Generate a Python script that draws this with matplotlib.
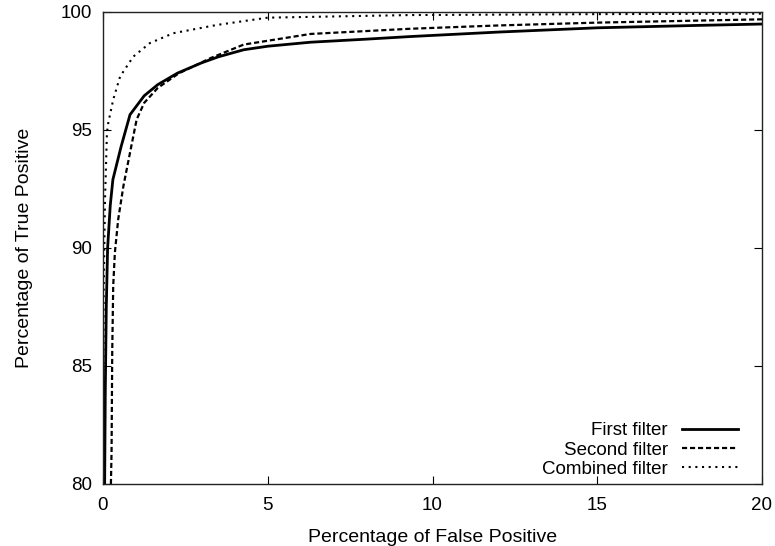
import matplotlib
matplotlib.use("Agg")
import matplotlib.pyplot as plt

plt.rcParams['font.family'] = ['Liberation Sans', 'DejaVu Sans']

# Data (x: % false positive, y: % true positive)
first_fp = [0.05, 0.07, 0.10, 0.14, 0.22, 0.30, 0.55, 0.82, 1.25, 1.66, 2.26, 3.0, 3.5,
            4.27, 5.0, 6.3, 8.0, 9.33, 12.0, 15.0, 18.0, 20.0]
first_tp = [80.0, 84.0, 87.5, 90.0, 91.8, 92.9, 94.3, 95.65, 96.45, 96.92, 97.41, 97.85, 98.1,
            98.4, 98.55, 98.72, 98.85, 98.96, 99.15, 99.33, 99.43, 99.49]

second_fp = [0.24, 0.26, 0.28, 0.31, 0.36, 0.46, 0.62, 0.82, 1.02, 1.25, 1.66, 2.3, 3.27,
             4.27, 6.3, 9.33, 12.0, 15.0, 20.0]
second_tp = [80.0, 81.4, 85.6, 88.4, 89.8, 91.2, 92.63, 94.04, 95.44, 96.15, 96.78, 97.4, 98.05,
             98.62, 99.07, 99.29, 99.43, 99.55, 99.69]

combined_fp = [0.0, 0.02, 0.06, 0.12, 0.16, 0.31, 0.52, 0.92, 1.42, 2.13, 3.45, 5.0, 9.3,
               15.0, 20.0]
combined_tp = [80.0, 88.0, 92.0, 94.9, 95.3, 96.29, 97.27, 98.11, 98.68, 99.1, 99.45, 99.76, 99.87,
               99.91, 99.93]

labels = ["First filter", "Second filter", "Combined filter"]
x_ticks = [0, 5, 10, 15, 20]
y_ticks = [80, 85, 90, 95, 100]

fig = plt.figure(figsize=(7.75, 5.46), dpi=100)
ax = fig.add_axes([103/775, 1-484/546, (762-103)/775, (484-12)/546])

ax.plot(first_fp, first_tp, color='black', lw=2.0, solid_joinstyle='miter', label=labels[0])
ax.plot(second_fp, second_tp, color='black', lw=1.6, dashes=(2.3, 1.3), label=labels[1])
ax.plot(combined_fp, combined_tp, color='black', lw=1.5, dashes=(1.0, 2.2), label=labels[2])

ax.set_xlim(0, 20)
ax.set_ylim(80, 100)
ax.set_xticks(x_ticks)
ax.set_yticks(y_ticks)
ax.tick_params(direction='in', length=6, width=0.8, top=True, right=True,
               labelsize=13.5, colors='black')
ax.tick_params(axis='x', pad=9)
ax.tick_params(axis='y', pad=8)
for s in ax.spines.values():
    s.set_linewidth(1.0)
    s.set_color('#222222')

ax.set_xlabel("Percentage of False Positive", fontsize=14, labelpad=11)
ax.set_ylabel("Percentage of True Positive", fontsize=14, labelpad=20)

leg = ax.legend(loc='lower right', frameon=False, markerfirst=False, fontsize=13.5,
                handlelength=3.0, handletextpad=0.75, labelspacing=0.12,
                borderaxespad=0.0, borderpad=0.0,
                bbox_to_anchor=(1 - 24/659, 6/472))

fig.savefig("out.png", dpi=100)
